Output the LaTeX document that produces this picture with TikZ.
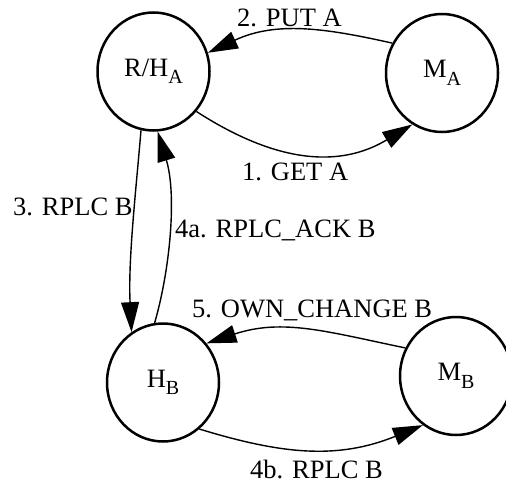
\documentclass[tikz,border=0pt]{standalone}
\usepackage{fontspec}
\setmainfont{Liberation Serif}
\usetikzlibrary{arrows.meta,shapes.geometric}
% lowered, smaller subscript letter used in the state names
\newcommand{\lowsub}[1]{\raisebox{-7.5pt}{\fontsize{20}{20}\selectfont #1}}
\begin{document}
\begin{tikzpicture}[x=1pt,y=-1pt,
  every node/.style={font=\fontsize{26.5}{30}\selectfont},
  state/.style={ellipse, draw, line width=2.5pt, minimum width=112pt,
                minimum height=118pt, inner sep=0pt},
  msg/.style={line width=1.4pt, -{Triangle[length=30pt,width=18pt]}},
  lbl/.style={anchor=base west, inner sep=0pt}]
\useasboundingbox (0,0) rectangle (506,484);
\clip (0,0) rectangle (506,484);

% states
\node[state] (RA) at (153.5,71.5) {R/H\lowsub{A}};
\node[state] (MA) at (442,73) {M\lowsub{A}};
\node[state] (HB) at (163,382.5) {H\lowsub{B}};
\node[state] (MB) at (456,376) {M\lowsub{B}};

% messages
\draw[msg] (RA.-43) .. controls (290,172) and (350,162) .. (MA.-120);
\draw[msg] (MA.149) .. controls (325,28) and (276,21) .. (RA.19);
\draw[msg] (RA.-102) .. controls (136,190) and (128,260) .. (HB.122);
\draw[msg] (HB.98) .. controls (170,270) and (177,195) .. (RA.-86);
\draw[msg] (MB.151) .. controls (328,332) and (283,318) .. (HB.42);
\draw[msg] (HB.-52) .. controls (281,454) and (337,460) .. (MB.-124);

% message labels
\node[lbl] (l1) at (242,180) {1. GET A};
\node[lbl] (l2) at (237,27) {2. PUT A};
\node[lbl] (l3) at (13,215) {3. RPLC B};
\node[lbl] (l4a) at (175,237) {4a. RPLC\_ACK B};
\node[lbl] (l5) at (192,317) {5. OWN\_CHANGE B};
\node[lbl] (l4b) at (250,478) {4b. RPLC B};
\end{tikzpicture}
\end{document}
